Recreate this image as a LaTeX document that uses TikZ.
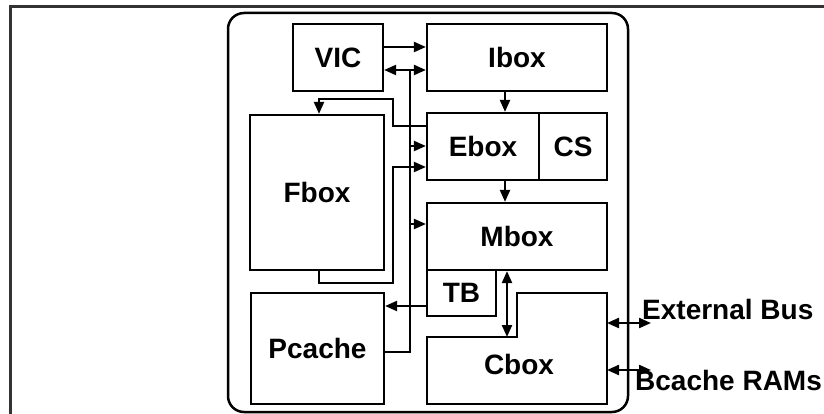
\documentclass[tikz,border=0pt]{standalone}
\usepackage{fontspec}
\setmainfont{Liberation Sans}
\usetikzlibrary{arrows.meta}
\begin{document}
\begin{tikzpicture}[x=1pt,y=-1pt,
  every node/.style={font=\fontsize{28}{32}\selectfont\bfseries},
  blk/.style={draw, line width=2.2pt, inner sep=0pt},
  wire/.style={line width=2.2pt},
  arr/.style={wire, -{Triangle[length=12pt,width=10pt]}},
  darr/.style={wire, {Triangle[length=12pt,width=10pt]}-{Triangle[length=12pt,width=10pt]}}]
\useasboundingbox (0,0) rectangle (824,414);
% image frame
\draw[line width=2.5pt, black!80] (10.5,414) -- (10.5,6.5) -- (824,6.5);
% chip outline
\draw[line width=2.5pt, rounded corners=16pt] (228,13) rectangle (628,412);
% blocks
\node[blk, minimum width=90pt, minimum height=67pt] (VIC) at (338,57.5) {VIC};
\node[blk, minimum width=180pt, minimum height=67pt] (Ibox) at (517,57.5) {Ibox};
\node[blk, minimum width=112pt, minimum height=67pt] (Ebox) at (483,146.5) {Ebox};
\node[blk, minimum width=68pt, minimum height=67pt] (CS) at (573,146.5) {CS};
\node[blk, minimum width=134pt, minimum height=155pt] (Fbox) at (317,192.5) {Fbox};
\node[blk, minimum width=180pt, minimum height=67pt] (Mbox) at (517,236.5) {Mbox};
\node[blk, minimum width=69pt, minimum height=46pt] (TB) at (461.5,293) {TB};
\node[blk, minimum width=133pt, minimum height=111pt] (Pcache) at (317.5,348.5) {Pcache};
\draw[line width=2.2pt] (427,337) -- (517,337) -- (517,293) -- (607,293) -- (607,404) -- (427,404) -- cycle;
\node (Cbox) at (519,364) {Cbox};
\coordinate (cbtop) at (507,337);
\coordinate (cbr1) at (607,323);
\coordinate (cbr2) at (607,370);
\coordinate (ext1) at (651,323);
\coordinate (ext2) at (651,370);
% connectors
\draw[arr] (VIC.east |- 0,47) -- (Ibox.west |- 0,47);
\draw[darr] (VIC.east |- 0,70) -- (Ibox.west |- 0,70);
\coordinate (bustop) at (410,70);
\draw[wire] (Pcache.east |- 0,352) -| (bustop);
\draw[arr] (410,146) -- (Ebox.west |- 0,146);
\draw[arr] (410,224) -- (Mbox.west |- 0,224);
\draw[arr] (Ibox.south -| 505,0) -- (Ebox.north -| 505,0);
\draw[arr] (Ebox.south -| 505,0) -- (Mbox.north -| 505,0);
\draw[arr] (Ebox.west |- 0,126) -- (393,126) -- (393,99) -- (319,99) -- (Fbox.north -| 319,0);
\draw[arr] (Fbox.south -| 319,0) -- (319,283) -- (393,283) -- (393,167) -- (Ebox.west |- 0,167);
\draw[arr] (TB.west |- 0,306) -- (Pcache.east |- 0,306);
\draw[darr] (Mbox.south -| 507,0) -- (cbtop);
\draw[darr] (cbr1) -- (ext1);
\draw[darr] (cbr2) -- (ext2);
\node[anchor=base west, inner sep=0pt] (extlbl) at (642,319) {External Bus};
\node[anchor=base west, inner sep=0pt] (bclbl) at (635,390) {Bcache RAMs};
\end{tikzpicture}
\end{document}
